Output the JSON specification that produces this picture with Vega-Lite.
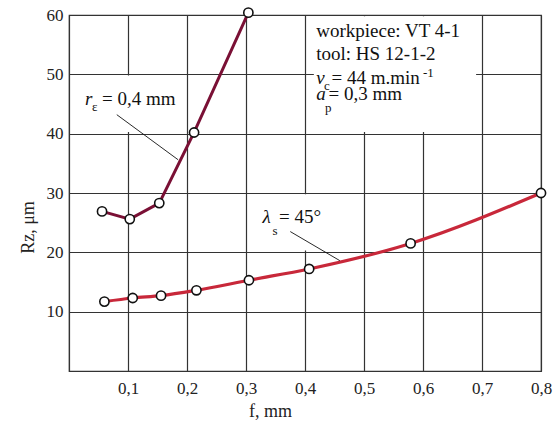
{
  "$schema": "https://vega.github.io/schema/vega-lite/v6.json",
  "width": 472,
  "height": 356,
  "autosize": "none",
  "padding": {"left": 69, "top": 15, "right": 14, "bottom": 50},
  "background": "white",
  "config": {
    "font": "Liberation Serif",
    "view": {"stroke": "#333", "strokeWidth": 1.2}
  },
  "datasets": {
    "pts": [
      {"series": "rg", "f": 0.056, "rz": 26.9},
      {"series": "rg", "f": 0.103, "rz": 25.6},
      {"series": "rg", "f": 0.153, "rz": 28.3},
      {"series": "rg", "f": 0.212, "rz": 40.2},
      {"series": "rg", "f": 0.304, "rz": 60.4},
      {"series": "ls", "f": 0.06, "rz": 11.7},
      {"series": "ls", "f": 0.108, "rz": 12.3},
      {"series": "ls", "f": 0.156, "rz": 12.7},
      {"series": "ls", "f": 0.216, "rz": 13.6},
      {"series": "ls", "f": 0.305, "rz": 15.3},
      {"series": "ls", "f": 0.407, "rz": 17.2},
      {"series": "ls", "f": 0.579, "rz": 21.5},
      {"series": "ls", "f": 0.8, "rz": 30.0}
    ],
    "boxes": [
      {"x": 0.415, "x2": 0.69, "y": 40.3, "y2": 59.8},
      {"x": 0.01, "x2": 0.19, "y": 40.3, "y2": 49.8},
      {"x": 0.31, "x2": 0.49, "y": 20.3, "y2": 29.8}
    ],
    "leaders": [
      {"x": 0.081, "y": 43.2, "x2": 0.185, "y2": 35.6},
      {"x": 0.375, "y": 23.5, "x2": 0.459, "y2": 18.6}
    ],
    "txt": [
      {"x": 0.419, "y": 56.3, "t": "workpiece: VT 4-1"},
      {"x": 0.419, "y": 52.4, "t": "tool: HS 12-1-2"},
      {"x": 0.445, "y": 48.4, "t": "= 44 m.min"},
      {"x": 0.44, "y": 45.7, "t": "= 0,3 mm"},
      {"x": 0.056, "y": 44.8, "t": "= 0,4 mm"},
      {"x": 0.356, "y": 24.9, "t": "= 45°"}
    ],
    "ital": [
      {"x": 0.419, "y": 48.4, "t": "v"},
      {"x": 0.419, "y": 45.7, "t": "a"},
      {"x": 0.027, "y": 44.8, "t": "r"},
      {"x": 0.328, "y": 24.9, "t": "λ"}
    ],
    "small": [
      {"x": 0.432, "y": 47.4, "t": "c"},
      {"x": 0.434, "y": 43.6, "t": "p"},
      {"x": 0.039, "y": 43.9, "t": "ε"},
      {"x": 0.345, "y": 23.0, "t": "s"},
      {"x": 0.6, "y": 49.5, "t": "-1"}
    ]
  },
  "encoding": {
    "x": {
      "field": "x", "type": "quantitative",
      "scale": {"domain": [0, 0.8], "nice": false, "zero": false},
      "axis": {
        "values": [0.1, 0.2, 0.3, 0.4, 0.5, 0.6, 0.7, 0.8],
        "labelExpr": "replace(format(datum.value, '.1f'), '.', ',')",
        "grid": true, "gridColor": "#333", "gridWidth": 1.2, "gridOpacity": 1,
        "domainColor": "#333", "domainWidth": 1.2,
        "ticks": false, "labelPadding": 9,
        "labelFont": "Liberation Serif", "labelFontSize": 17, "labelColor": "#222",
        "labelAngle": 0, "labelFlush": false,
        "title": "f, mm", "titleFont": "Liberation Serif", "titleFontSize": 18,
        "titleFontWeight": "normal", "titleColor": "#222",
        "titleX": 201, "titleY": 45, "titleBaseline": "alphabetic", "titleAnchor": null, "titleAlign": "center"
      }
    },
    "y": {
      "field": "y", "type": "quantitative",
      "scale": {"domain": [0, 60], "nice": false, "zero": false},
      "axis": {
        "values": [10, 20, 30, 40, 50, 60],
        "grid": true, "gridColor": "#333", "gridWidth": 1.2, "gridOpacity": 1,
        "domainColor": "#333", "domainWidth": 1.2,
        "ticks": false, "labelPadding": 6,
        "labelFont": "Liberation Serif", "labelFontSize": 17, "labelColor": "#222",
        "labelFlush": false,
        "title": "Rz, μm", "titleFont": "Liberation Serif", "titleFontSize": 18,
        "titleFontWeight": "normal", "titleColor": "#222",
        "titleX": -36, "titleY": 212, "titleBaseline": "alphabetic", "titleAlign": "center", "titleAngle": 270
      }
    }
  },
  "layer": [
    {
      "data": {"name": "boxes"},
      "mark": {"type": "rect", "color": "white"},
      "encoding": {
        "x2": {"field": "x2"},
        "y2": {"field": "y2"}
      }
    },
    {
      "data": {"name": "pts"},
      "transform": [{"filter": "datum.series === 'rg'"}],
      "mark": {"type": "line", "color": "#7A1035", "strokeWidth": 3},
      "encoding": {
        "x": {"field": "f", "type": "quantitative"},
        "y": {"field": "rz", "type": "quantitative"}
      }
    },
    {
      "data": {"name": "pts"},
      "transform": [{"filter": "datum.series === 'ls'"}],
      "mark": {"type": "line", "color": "#C8283A", "strokeWidth": 3.2, "interpolate": "monotone"},
      "encoding": {
        "x": {"field": "f", "type": "quantitative"},
        "y": {"field": "rz", "type": "quantitative"}
      }
    },
    {
      "data": {"name": "pts"},
      "mark": {"type": "point", "shape": "circle", "filled": true, "fill": "white", "stroke": "#111", "strokeWidth": 1.6, "size": 85, "opacity": 1},
      "encoding": {
        "x": {"field": "f", "type": "quantitative"},
        "y": {"field": "rz", "type": "quantitative"}
      }
    },
    {
      "data": {"name": "leaders"},
      "mark": {"type": "rule", "color": "#111", "strokeWidth": 0.9},
      "encoding": {
        "x2": {"field": "x2"},
        "y2": {"field": "y2"}
      }
    },
    {
      "data": {"name": "txt"},
      "mark": {"type": "text", "align": "left", "baseline": "alphabetic", "font": "Liberation Serif", "fontSize": 19, "color": "#111"},
      "encoding": {"text": {"field": "t"}}
    },
    {
      "data": {"name": "ital"},
      "mark": {"type": "text", "align": "left", "baseline": "alphabetic", "font": "Liberation Serif", "fontSize": 19, "fontStyle": "italic", "color": "#111"},
      "encoding": {"text": {"field": "t"}}
    },
    {
      "data": {"name": "small"},
      "mark": {"type": "text", "align": "left", "baseline": "alphabetic", "font": "Liberation Serif", "fontSize": 13, "color": "#111"},
      "encoding": {"text": {"field": "t"}}
    }
  ]
}
